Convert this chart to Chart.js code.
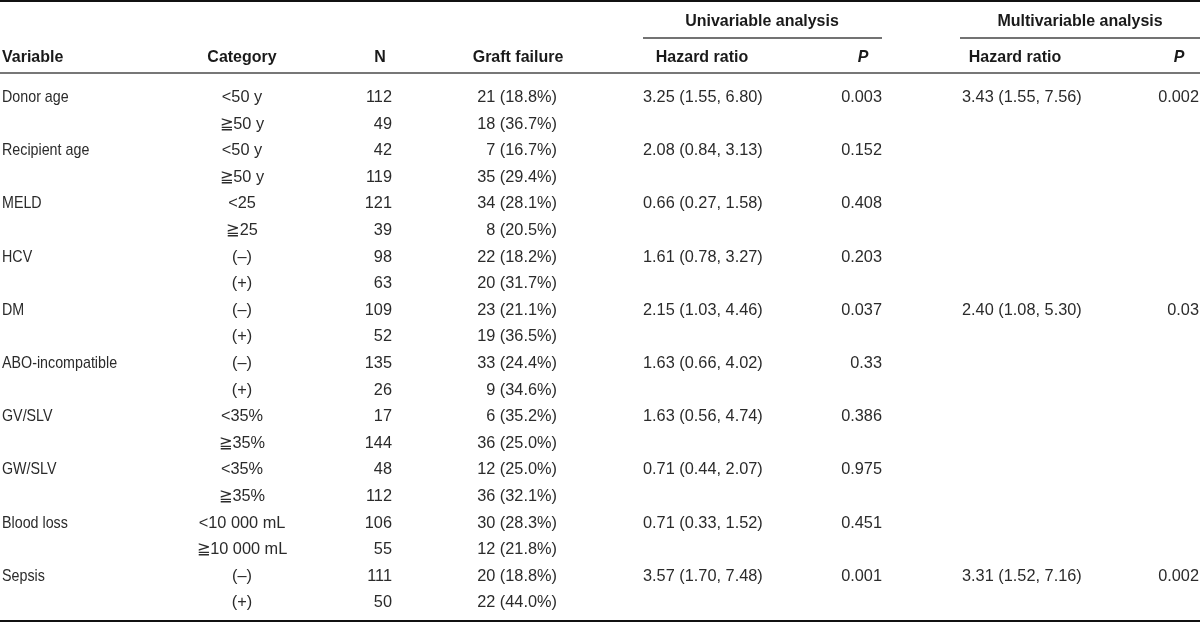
<!DOCTYPE html>
<html>
<head>
<meta charset="utf-8">
<script src="https://cdn.jsdelivr.net/npm/chart.js"></script>
<style>
  body { margin: 0; background: #fff; }
  #wrap { width: 1200px; height: 623px; position: relative; }
</style>
</head>
<body>
<div id="wrap"><canvas id="tableChart"></canvas></div>
<script>
// 표 데이터 (행 단위)
const variables = ['Donor age', 'Recipient age', 'MELD', 'HCV', 'DM', 'ABO-incompatible', 'GV/SLV', 'GW/SLV', 'Blood loss', 'Sepsis'];
const categories = ['<50 y', '≧50 y', '<50 y', '≧50 y', '<25', '≧25', '(–)', '(+)', '(–)', '(+)',
                    '(–)', '(+)', '<35%', '≧35%', '<35%', '≧35%', '<10 000 mL', '≧10 000 mL', '(–)', '(+)'];
const nValues = [112, 49, 42, 119, 121, 39, 98, 63, 109, 52, 135, 26, 17, 144, 48, 112, 106, 55, 111, 50];
const failures = [21, 18, 7, 35, 34, 8, 22, 20, 23, 19, 33, 9, 6, 36, 12, 36, 30, 12, 20, 22];
const failurePct = ['18.8', '36.7', '16.7', '29.4', '28.1', '20.5', '18.2', '31.7', '21.1', '36.5',
                    '24.4', '34.6', '35.2', '25.0', '25.0', '32.1', '28.3', '21.8', '18.8', '44.0'];

// 단변량 분석 (변수별)
const uniHR = [3.25, 2.08, 0.66, 1.61, 2.15, 1.63, 1.63, 0.71, 0.71, 3.57];
const uniLow = [1.55, 0.84, 0.27, 0.78, 1.03, 0.66, 0.56, 0.44, 0.33, 1.70];
const uniHigh = [6.80, 3.13, 1.58, 3.27, 4.46, 4.02, 4.74, 2.07, 1.52, 7.48];
const uniP = ['0.003', '0.152', '0.408', '0.203', '0.037', '0.33', '0.386', '0.975', '0.451', '0.001'];

// 다변량 분석 (해당 변수만)
const multiHR = [3.43, null, null, null, 2.40, null, null, null, null, 3.31];
const multiLow = [1.55, null, null, null, 1.08, null, null, null, null, 1.52];
const multiHigh = [7.56, null, null, null, 5.30, null, null, null, null, 7.16];
const multiP = ['0.002', null, null, null, '0.03', null, null, null, null, '0.002'];

const rowLabels = categories.map((c, i) => 'r' + i);

const FONT = "'Liberation Sans', Arial, sans-serif";

function fmtHR(h, lo, hi) {
    return h.toFixed(2) + ' (' + lo.toFixed(2) + ', ' + hi.toFixed(2) + ')';
}

// 표를 그리는 플러그인
const tablePlugin = {
    id: 'tablePlugin',
    afterDraw(chart) {
        const ctx = chart.ctx;
        const xs = chart.scales.x;
        const ys = chart.scales.y;
        const X = v => xs.getPixelForValue(v);

        ctx.save();
        // 가로 줄
        function rule(x1, x2, y, w, color) {
            ctx.beginPath();
            ctx.strokeStyle = color;
            ctx.lineWidth = w;
            ctx.moveTo(X(x1), y);
            ctx.lineTo(X(x2), y);
            ctx.stroke();
        }
        rule(0, 1200, 1, 2, '#111');
        rule(643, 882, 38, 1.5, '#444');
        rule(960, 1200, 38, 1.5, '#444');
        rule(0, 1200, 73, 2, '#777');
        rule(0, 1200, 621, 2, '#111');

        // 좁은 글꼴 흉내 (가로 압축)
        function text(str, x, y, align, style, color, sx) {
            ctx.save();
            ctx.font = style + ' 17px ' + FONT;
            ctx.textAlign = align;
            ctx.textBaseline = 'middle';
            ctx.fillStyle = color;
            ctx.translate(X(x), y);
            ctx.scale(sx, 1);
            ctx.fillText(str, 0, 0);
            ctx.restore();
        }

        // 헤더
        const hc = '#1a1a1a';
        const hs = 0.94;
        text('Univariable analysis', 762, 21, 'center', 'bold', hc, hs);
        text('Multivariable analysis', 1080, 21, 'center', 'bold', hc, hs);
        text('Variable', 2, 57, 'left', 'bold', hc, hs);
        text('Category', 242, 57, 'center', 'bold', hc, hs);
        text('N', 380, 57, 'center', 'bold', hc, hs);
        text('Graft failure', 518, 57, 'center', 'bold', hc, hs);
        text('Hazard ratio', 702, 57, 'center', 'bold', hc, hs);
        text('Hazard ratio', 1015, 57, 'center', 'bold', hc, hs);
        text('P', 863, 57, 'center', 'italic bold', hc, hs);
        text('P', 1179, 57, 'center', 'italic bold', hc, hs);

        // 본문
        const dc = '#2b2b2b';
        const ws = 0.84;   // 글자 위주 열
        const ns = 0.96;   // 숫자 위주 열
        categories.forEach((cat, i) => {
            const y = ys.getPixelForValue(i);
            const v = Math.floor(i / 2);
            if (i % 2 === 0) {
                text(variables[v], 2, y, 'left', 'normal', dc, ws);
                text(fmtHR(uniHR[v], uniLow[v], uniHigh[v]), 643, y, 'left', 'normal', dc, ns);
                text(uniP[v], 882, y, 'right', 'normal', dc, ns);
                if (multiHR[v] !== null) {
                    text(fmtHR(multiHR[v], multiLow[v], multiHigh[v]), 962, y, 'left', 'normal', dc, ns);
                    text(multiP[v], 1199, y, 'right', 'normal', dc, ns);
                }
            }
            text(cat, 242, y, 'center', 'normal', dc, ns);
            text(String(nValues[i]), 392, y, 'right', 'normal', dc, ns);
            text(failures[i] + ' (' + failurePct[i] + '%)', 557, y, 'right', 'normal', dc, ns);
        });
        ctx.restore();
    }
};

const chart = new Chart(document.getElementById('tableChart').getContext('2d'), {
    type: 'bar',
    data: {
        labels: rowLabels,
        datasets: []
    },
    options: {
        indexAxis: 'y',
        responsive: true,
        maintainAspectRatio: false,
        animation: false,
        layout: {
            padding: { top: 84, bottom: 7, left: 0, right: 0 }
        },
        plugins: {
            legend: { display: false },
            tooltip: { enabled: false }
        },
        scales: {
            x: { type: 'linear', min: 0, max: 1200, display: false },
            y: { type: 'category', offset: true, display: false }
        }
    },
    plugins: [tablePlugin]
});
</script>
</body>
</html>
